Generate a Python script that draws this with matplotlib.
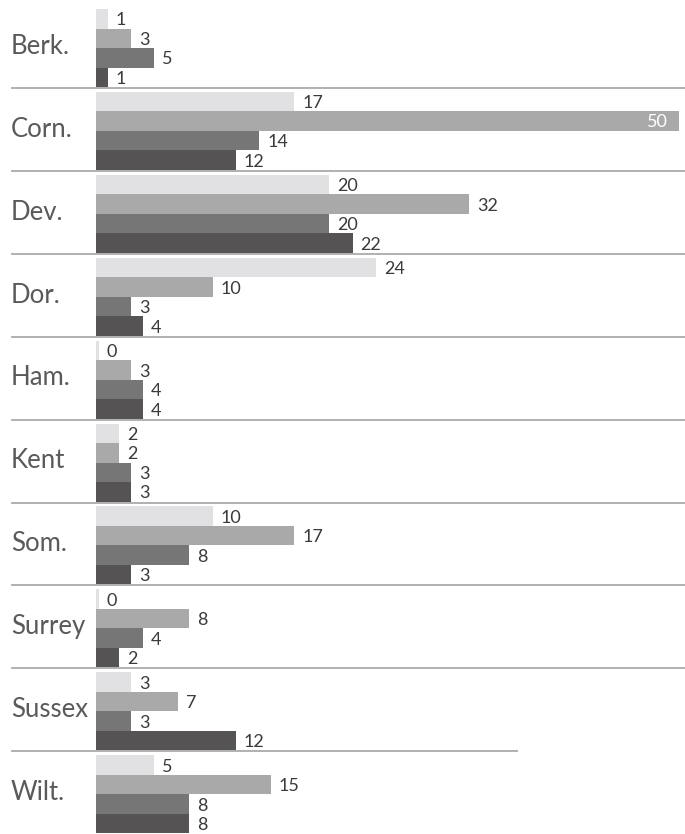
import numpy as np
import matplotlib.pyplot as plt
import matplotlib.transforms as mtransforms

plt.rcParams['font.family'] = ['Lato', 'DejaVu Sans']

# data
regions = ["Berk.", "Corn.", "Dev.", "Dor.", "Ham.", "Kent", "Som.", "Surrey", "Sussex", "Wilt."]
series_1 = [1, 17, 20, 24, 0, 2, 10, 0, 3, 5]
series_2 = [3, 50, 32, 10, 3, 2, 17, 8, 7, 15]
series_3 = [5, 14, 20, 3, 4, 3, 8, 4, 3, 8]
series_4 = [1, 12, 22, 4, 4, 3, 3, 2, 12, 8]
colors = ["#e1e1e3", "#a9a9aa", "#767677", "#555354"]

W, H = 685, 834
fig = plt.figure(figsize=(W / 100, H / 100), dpi=100)

# axes area: bars start at x=96px, run to the right edge
x0 = 96
ax = fig.add_axes([x0 / W, 0, 1 - x0 / W, 1])
px_per_unit = 11.66
ax.set_xlim(0, (W - x0) / px_per_unit)

pitch = 82.9          # pixels per group
top = 9               # pixel of first bar top
ax.set_ylim((H - top) / pitch, -top / pitch)
ax.axis("off")

bar_h = 19.5 / pitch
all_series = [series_1, series_2, series_3, series_4]
vmax = max(max(s) for s in all_series)
off = 8 / px_per_unit

for j, (vals, c) in enumerate(zip(all_series, colors)):
    vals = np.array(vals, dtype=float)
    ys = np.arange(len(regions)) + j * bar_h + bar_h / 2
    ax.barh(ys, np.maximum(vals, 0.25), height=bar_h, color=c, align="center", linewidth=0)
    for v, y in zip(vals, ys):
        if v == vmax:
            ax.text(v - 11 / px_per_unit, y + 0.01, f"{int(v)}", ha="right", va="center",
                    fontsize=13, color="white")
        else:
            ax.text(max(v, 0.25) + off, y + 0.02, f"{int(v)}", ha="left", va="center",
                    fontsize=13, color="#3a3a3a")

# group labels and separators
trans = mtransforms.blended_transform_factory(fig.transFigure, ax.transData)
group_span = 4 * bar_h
for i, name in enumerate(regions):
    ax.text(11 / W, i + group_span / 2 - 0.02, name, transform=trans, ha="left", va="center",
            fontsize=18.5, color="#5a5a5a")
    if i < len(regions) - 1:
        sep_y = i + (88 - top) / pitch
        x_end = 517 / W if i == len(regions) - 2 else 1.0
        ax.plot([12 / W, x_end], [sep_y, sep_y], transform=trans, color="#aaaaaa",
                linewidth=1.3, clip_on=False)

fig.savefig("out.png", dpi=100)
